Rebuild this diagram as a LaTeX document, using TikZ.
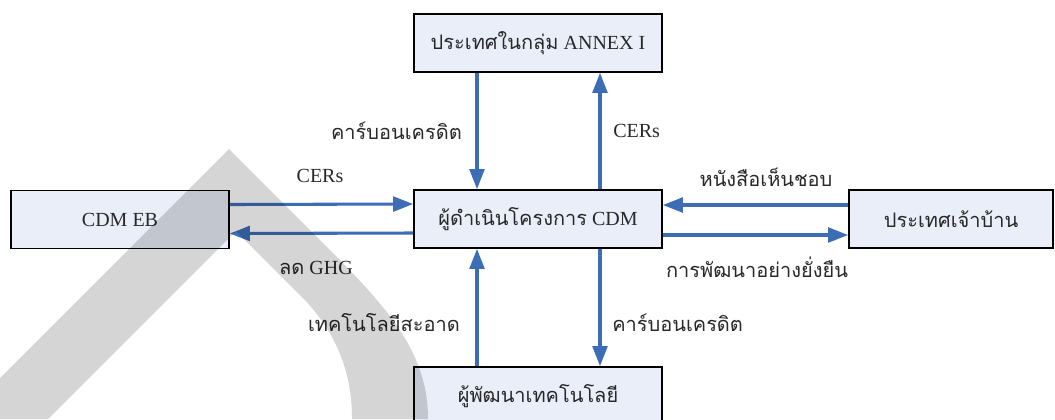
\documentclass[tikz,border=0pt]{standalone}
\usepackage{fontspec}
\setmainfont{Liberation Serif}
\newfontfamily\thai[Script=Thai]{Loma}
\usetikzlibrary{arrows.meta}
\definecolor{boxfill}{RGB}{233,238,248}
\definecolor{arr}{RGB}{61,109,181}
\definecolor{txt}{RGB}{40,40,40}
\begin{document}
\begin{tikzpicture}[x=0.75pt,y=-0.75pt,
  box/.style={draw=black,line width=1.2pt,fill=boxfill,minimum height=43.5pt,inner sep=0pt,text=txt,font=\fontsize{15}{18}\selectfont},
  flow/.style={draw=arr,line width=2.3pt,-{Triangle[length=15pt,width=11pt]}},
  lbl/.style={text=txt,font=\fontsize{15}{18}\selectfont,inner sep=0pt}]
\useasboundingbox (0,0) rectangle (1055,419);
\fill[white] (0,0) rectangle (1055,419);
% boxes
\node[box,minimum width=186pt] (annex) at (538,43) {{\thai ประเทศในกลุ่ม} ANNEX I};
\node[box,minimum width=186pt] (cdm) at (538,219) {{\thai ผู้ดำเนินโครงการ} CDM};
\node[box,minimum width=186pt] (dev) at (538,396) {\thai ผู้พัฒนาเทคโนโลยี};
\node[box,minimum width=163.5pt] (eb) at (120,219.5) {CDM EB};
\node[box,minimum width=153pt] (host) at (951,219) {\thai ประเทศเจ้าบ้าน};
% connectors
\draw[flow] ([yshift=11.25pt]eb.east) -- ([yshift=11.25pt]cdm.west);
\draw[flow] ([yshift=-10.5pt]cdm.west) -- ([yshift=-10.5pt]eb.east);
\draw[flow] ([yshift=10.5pt]host.west) -- ([yshift=10.5pt]cdm.east);
\draw[flow] ([yshift=-12pt]cdm.east) -- ([yshift=-12pt]host.west);
\draw[flow] ([xshift=-45.75pt]annex.south) -- ([xshift=-45.75pt]cdm.north);
\draw[flow] ([xshift=46.5pt]cdm.north) -- ([xshift=46.5pt]annex.south);
\draw[flow] ([xshift=-45.75pt]dev.north) -- ([xshift=-45.75pt]cdm.south);
\draw[flow] ([xshift=46.5pt]cdm.south) -- ([xshift=46.5pt]dev.north);
% labels
\node[lbl,anchor=east] (l1) at (462,131) {\thai คาร์บอนเครดิต};
\node[lbl,anchor=west] (l2) at (613,131) {CERs};
\node[lbl] (l3) at (320,176) {CERs};
\node[lbl] (l4) at (766,177) {\thai หนังสือเห็นชอบ};
\node[lbl] (l5) at (316,268) {{\thai ลด} GHG};
\node[lbl] (l6) at (757,267) {\thai การพัฒนาอย่างยั่งยืน};
\node[lbl,anchor=east] (l7) at (460,323) {\thai เทคโนโลยีสะอาด};
\node[lbl,anchor=west] (l8) at (612,323) {\thai คาร์บอนเครดิต};
% watermark
\fill[black,fill opacity=0.165] (-41,419) -- (229,149) -- (320,240)
  .. controls (385,305) and (428,350) .. (428,419) -- (352,419)
  .. controls (352,370) and (335,330) .. (300,295) -- (236,231) -- (48,419) -- cycle;
\end{tikzpicture}
\end{document}
